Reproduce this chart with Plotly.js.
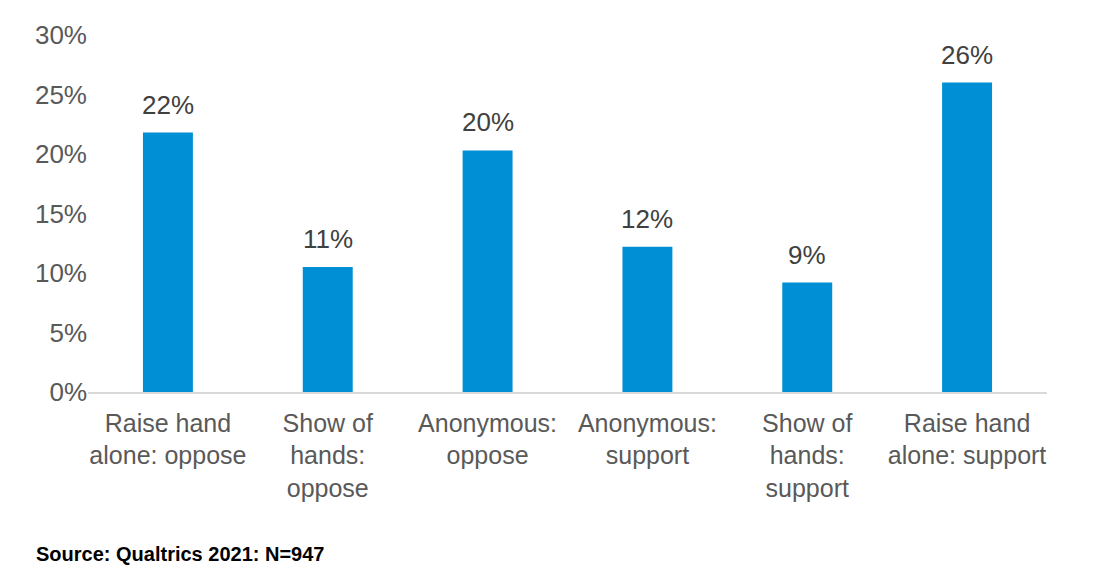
<!DOCTYPE html>
<html>
<head>
<meta charset="utf-8">
<script src="https://cdn.plot.ly/plotly-3.0.1.min.js"></script>
<style>html,body{margin:0;padding:0;background:#fff;}#chart{width:1097px;height:577px;}</style>
</head>
<body>
<div id="chart"></div>
<script>
var categories = ["Raise hand<br>alone: oppose", "Show of<br>hands:<br>oppose", "Anonymous:<br>oppose", "Anonymous:<br>support", "Show of<br>hands:<br>support", "Raise hand<br>alone: support"];
var values = [21.8, 10.5, 20.3, 12.2, 9.2, 26.0];
var labels = ["22%", "11%", "20%", "12%", "9%", "26%"];
var tickVals = [0, 5, 10, 15, 20, 25, 30];
var tickText = ["0%", "5%", "10%", "15%", "20%", "25%", "30%"];
var sourceText = "Source: Qualtrics 2021: N=947";

var font = "Liberation Sans, Arial, Helvetica, sans-serif";
var annotations = categories.map(function (c, i) {
  return {
    x: c, y: values[i], xref: 'x', yref: 'y',
    text: labels[i], showarrow: false,
    yanchor: 'bottom', yshift: 11,
    font: {family: font, size: 26, color: '#404040'}
  };
});
annotations.push({
  xref: 'paper', yref: 'paper', x: -0.056, y: -0.455,
  xanchor: 'left', yanchor: 'middle',
  text: '<b>' + sourceText + '</b>', showarrow: false,
  font: {family: font, size: 20, color: '#000000'}
});

var trace = {
  type: 'bar', x: categories, y: values,
  marker: {color: '#008FD5'},
  hoverinfo: 'none'
};

var layout = {
  width: 1097, height: 577,
  margin: {l: 88, r: 50, t: 35, b: 185},
  paper_bgcolor: '#ffffff', plot_bgcolor: '#ffffff',
  bargap: 0.6875,
  showlegend: false,
  font: {family: font, size: 26, color: '#595959'},
  xaxis: {
    type: 'category', showgrid: false, zeroline: false,
    showline: true, linecolor: '#d9d9d9', linewidth: 1.5,
    ticks: '', ticklabelstandoff: 8,
    tickfont: {family: font, size: 25, color: '#595959'}
  },
  yaxis: {
    range: [0, 30], tickvals: tickVals, ticktext: tickText,
    showgrid: false, zeroline: false, showline: false, ticks: '',
    ticklabelstandoff: 0,
    tickfont: {family: font, size: 26, color: '#595959'}
  },
  annotations: annotations
};

Plotly.newPlot('chart', [trace], layout, {displayModeBar: false, staticPlot: true});
</script>
</body>
</html>
